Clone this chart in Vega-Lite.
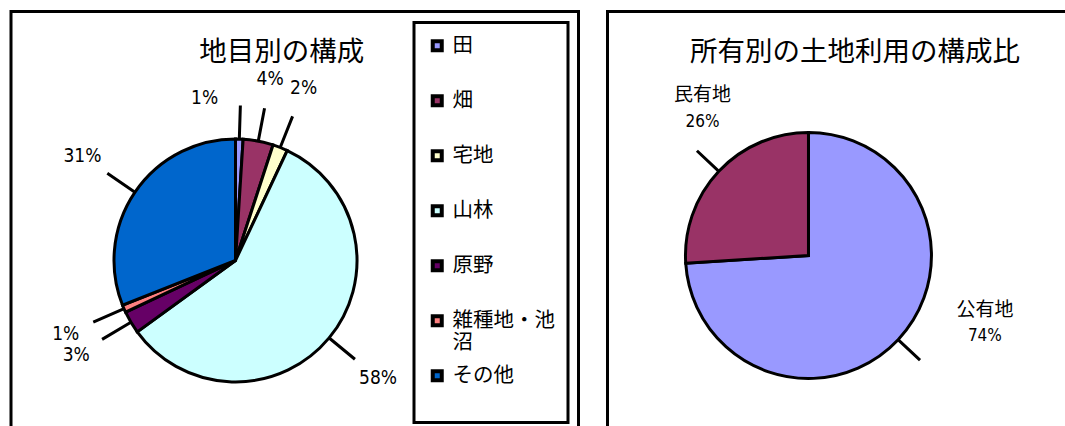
{
  "$schema": "https://vega.github.io/schema/vega-lite/v6.json",
  "background": "white",
  "padding": {"left": 9, "top": 9.5, "right": 0, "bottom": 0},
  "spacing": 25.5,
  "resolve": {
    "scale": {"color": "independent", "theta": "independent", "x": "independent", "y": "independent"},
    "legend": {"color": "independent"}
  },
  "config": {
    "view": {"stroke": "black", "strokeWidth": 3},
    "font": "Noto Sans CJK JP",
    "legend": {"strokeWidth": 3}
  },
  "datasets": {
    "landUse": [
      {"category": "田", "share": 0.01, "rank": 1},
      {"category": "畑", "share": 0.04, "rank": 2},
      {"category": "宅地", "share": 0.02, "rank": 3},
      {"category": "山林", "share": 0.58, "rank": 4},
      {"category": "原野", "share": 0.03, "rank": 5},
      {"category": "雑種地・池沼", "share": 0.01, "rank": 6},
      {"category": "その他", "share": 0.31, "rank": 7}
    ],
    "ownership": [
      {"category": "公有地", "share": 0.74, "rank": 1},
      {"category": "民有地", "share": 0.26, "rank": 2}
    ]
  },
  "hconcat": [
    {
      "width": 567.5,
      "height": 430,
      "title": {"text": "地目別の構成", "fontSize": 27.5, "fontWeight": "normal", "font": "Noto Sans CJK JP", "color": "black", "baseline": "middle", "offset": -68.5, "dx": -13},
      "data": {"name": "landUse"},
      "encoding": {
        "x": {"datum": "pie", "type": "nominal", "scale": {"type": "point", "align": 0.3956}, "axis": null},
        "y": {"datum": "pie", "type": "nominal", "scale": {"type": "point", "align": 0.579}, "axis": null}
      },
      "layer": [
        {
          "mark": {"type": "arc", "radius": 121.5, "stroke": "black", "strokeWidth": 3},
          "encoding": {
            "theta": {"field": "share", "type": "quantitative", "stack": true, "scale": {"domain": [0, 1]}},
            "order": {"field": "rank", "type": "quantitative"},
            "color": {
              "field": "category", "type": "nominal",
              "scale": {
                "domain": ["田", "畑", "宅地", "山林", "原野", "雑種地・池沼", "その他"],
                "range": ["#9999FF", "#993366", "#FFFFCC", "#CCFFFF", "#660066", "#FF8080", "#0066CC"]
              },
              "legend": {
                "title": null,
                "orient": "top-right",
                "offset": 11,
                "padding": 13,
                "strokeColor": "black",
                "symbolType": "square",
                "symbolSize": 81,
                "symbolStrokeColor": "black",
                "symbolStrokeWidth": 4,
                "labelFont": "Noto Sans CJK JP",
                "labelFontSize": 20.5,
                "labelColor": "black",
                "labelOffset": 5,
                "labelLimit": 300,
                "rowPadding": 8,
                "labelExpr": "datum.label == '雑種地・池沼' ? ['雑種地・池', '沼'] : [datum.label, '']",
                "encode": {
                  "labels": {"dy": {"value": 13.5}, "lineHeight": {"value": 27}}
                }
              }
            }
          }
        },
        {
          "transform": [
            {"stack": "share", "groupby": [], "sort": [{"field": "rank", "order": "ascending"}], "as": ["s0", "s1"]},
            {"fold": ["s0", "s1"], "as": ["edge", "pos"]},
            {"aggregate": [{"op": "mean", "field": "pos", "as": "mid"}], "groupby": ["category"]}
          ],
          "mark": {"type": "arc", "radius": 155, "radius2": 122, "stroke": "black", "strokeWidth": 3, "fillOpacity": 0},
          "encoding": {
            "theta": {"field": "mid", "type": "quantitative", "scale": {"domain": [0, 1]}},
            "theta2": {"field": "mid"}
          }
        },
        {
          "transform": [
            {"stack": "share", "groupby": [], "sort": [{"field": "rank", "order": "ascending"}], "as": ["s0", "s1"]},
            {"fold": ["s0", "s1"], "as": ["edge", "pos"]},
            {"aggregate": [{"op": "mean", "field": "pos", "as": "mid"}], "groupby": ["category", "share"]},
            {"filter": "datum.category != '田'"}
          ],
          "mark": {"type": "text", "radius": 185, "font": "DejaVu Sans Condensed, Noto Sans CJK JP, sans-serif", "fontSize": 19, "color": "black", "align": "center", "baseline": "middle"},
          "encoding": {
            "theta": {"field": "mid", "type": "quantitative", "scale": {"domain": [0, 1]}},
            "text": {"field": "share", "type": "quantitative", "format": ".0%"}
          }
        },
        {
          "transform": [
            {"stack": "share", "groupby": [], "sort": [{"field": "rank", "order": "ascending"}], "as": ["s0", "s1"]},
            {"fold": ["s0", "s1"], "as": ["edge", "pos"]},
            {"aggregate": [{"op": "mean", "field": "pos", "as": "mid"}], "groupby": ["category", "share"]},
            {"filter": "datum.category == '田'"}
          ],
          "mark": {"type": "text", "radius": 165, "thetaOffset": -0.22, "font": "DejaVu Sans Condensed, Noto Sans CJK JP, sans-serif", "fontSize": 19, "color": "black", "align": "center", "baseline": "middle"},
          "encoding": {
            "theta": {"field": "mid", "type": "quantitative", "scale": {"domain": [0, 1]}},
            "text": {"field": "share", "type": "quantitative", "format": ".0%"}
          }
        }
      ]
    },
    {
      "width": 495,
      "height": 430,
      "title": {"text": "所有別の土地利用の構成比", "fontSize": 27.5, "fontWeight": "normal", "font": "Noto Sans CJK JP", "color": "black", "baseline": "middle", "offset": -68.5},
      "data": {"name": "ownership"},
      "encoding": {
        "x": {"datum": "pie", "type": "nominal", "scale": {"type": "point", "align": 0.406}, "axis": null},
        "y": {"datum": "pie", "type": "nominal", "scale": {"type": "point", "align": 0.5674}, "axis": null}
      },
      "layer": [
        {
          "mark": {"type": "arc", "radius": 123, "stroke": "black", "strokeWidth": 3},
          "encoding": {
            "theta": {"field": "share", "type": "quantitative", "stack": true, "scale": {"domain": [0, 1]}},
            "order": {"field": "rank", "type": "quantitative"},
            "color": {
              "field": "category", "type": "nominal",
              "scale": {"domain": ["公有地", "民有地"], "range": ["#9999FF", "#993366"]},
              "legend": null
            }
          }
        },
        {
          "transform": [
            {"stack": "share", "groupby": [], "sort": [{"field": "rank", "order": "ascending"}], "as": ["s0", "s1"]},
            {"fold": ["s0", "s1"], "as": ["edge", "pos"]},
            {"aggregate": [{"op": "mean", "field": "pos", "as": "mid"}], "groupby": ["category", "share"]}
          ],
          "mark": {"type": "arc", "radius": 153, "radius2": 124, "stroke": "black", "strokeWidth": 3, "fillOpacity": 0},
          "encoding": {
            "theta": {"field": "mid", "type": "quantitative", "scale": {"domain": [0, 1]}},
            "theta2": {"field": "mid"}
          }
        },
        {
          "transform": [
            {"stack": "share", "groupby": [], "sort": [{"field": "rank", "order": "ascending"}], "as": ["s0", "s1"]},
            {"fold": ["s0", "s1"], "as": ["edge", "pos"]},
            {"aggregate": [{"op": "mean", "field": "pos", "as": "mid"}], "groupby": ["category", "share"]},
            {"filter": "datum.category == '公有地'"}
          ],
          "layer": [
            {
              "mark": {"type": "text", "radius": 189, "thetaOffset": -0.387, "dy": -13, "font": "Noto Sans CJK JP", "fontSize": 19, "color": "black", "align": "center", "baseline": "middle"},
              "encoding": {
                "theta": {"field": "mid", "type": "quantitative", "scale": {"domain": [0, 1]}},
                "text": {"field": "category", "type": "nominal"}
              }
            },
            {
              "mark": {"type": "text", "radius": 189, "thetaOffset": -0.387, "dy": 13, "font": "DejaVu Sans Condensed, Noto Sans CJK JP, sans-serif", "fontSize": 17, "color": "black", "align": "center", "baseline": "middle"},
              "encoding": {
                "theta": {"field": "mid", "type": "quantitative", "scale": {"domain": [0, 1]}},
                "text": {"field": "share", "type": "quantitative", "format": ".0%"}
              }
            }
          ]
        },
        {
          "transform": [
            {"stack": "share", "groupby": [], "sort": [{"field": "rank", "order": "ascending"}], "as": ["s0", "s1"]},
            {"fold": ["s0", "s1"], "as": ["edge", "pos"]},
            {"aggregate": [{"op": "mean", "field": "pos", "as": "mid"}], "groupby": ["category", "share"]},
            {"filter": "datum.category == '民有地'"}
          ],
          "layer": [
            {
              "mark": {"type": "text", "radius": 181, "thetaOffset": 0.192, "dy": -13.5, "font": "Noto Sans CJK JP", "fontSize": 19, "color": "black", "align": "center", "baseline": "middle"},
              "encoding": {
                "theta": {"field": "mid", "type": "quantitative", "scale": {"domain": [0, 1]}},
                "text": {"field": "category", "type": "nominal"}
              }
            },
            {
              "mark": {"type": "text", "radius": 181, "thetaOffset": 0.192, "dy": 13.5, "font": "DejaVu Sans Condensed, Noto Sans CJK JP, sans-serif", "fontSize": 17, "color": "black", "align": "center", "baseline": "middle"},
              "encoding": {
                "theta": {"field": "mid", "type": "quantitative", "scale": {"domain": [0, 1]}},
                "text": {"field": "share", "type": "quantitative", "format": ".0%"}
              }
            }
          ]
        }
      ]
    }
  ]
}
